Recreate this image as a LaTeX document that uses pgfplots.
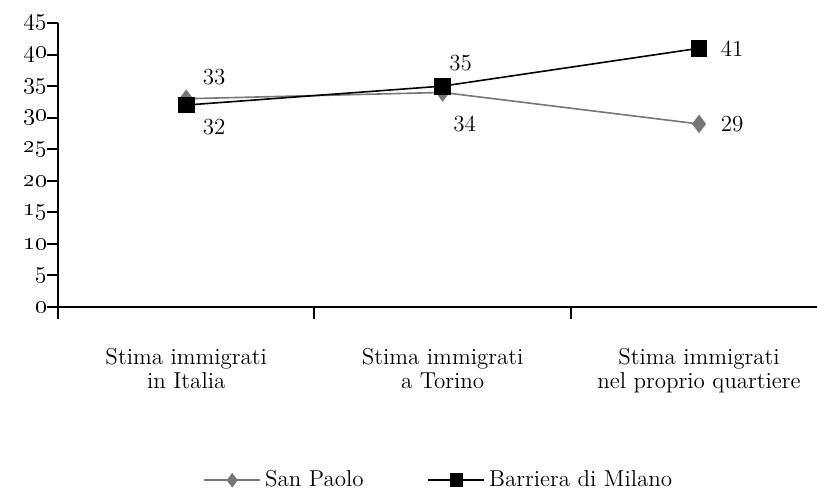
\documentclass[border=0pt]{standalone}
\usepackage{pgfplots}
\pgfplotsset{compat=1.18}
\definecolor{spgray}{RGB}{118,118,118}
\begin{document}
\fontsize{11.5}{12}\selectfont
\begin{tikzpicture}
\useasboundingbox (-29pt,-93.5pt) rectangle (379.5pt,153.5pt);
\begin{axis}[
  at={(0,0)}, anchor=south west,
  scale only axis, width=379.5pt, height=142pt,
  xmin=-0.5, xmax=2.46, ymin=0, ymax=45,
  axis x line*=bottom, axis y line*=left,
  axis line style={line width=1pt},
  tick align=outside,
  major tick length=5.5pt,
  ytick={0,5,...,45},
  yticklabels={\oldstylenums{0},\oldstylenums{5},\oldstylenums{10},\oldstylenums{15},\oldstylenums{20},\oldstylenums{25},\oldstylenums{30},\oldstylenums{35},\oldstylenums{40},\oldstylenums{45}},
  yticklabel style={font=\fontsize{12.5}{13}\selectfont, xshift=4pt},
  ytick style={draw=black, line width=1pt},
  xtick={0,1,2},
  xticklabels={{Stima immigrati\\in Italia},{Stima immigrati\\a Torino},{Stima immigrati\\nel proprio quartiere}},
  xticklabel style={align=center, yshift=-11pt},
  xtick style={draw=none},
  extra x ticks={-0.5,0.5,1.5},
  extra x tick labels={},
  extra x tick style={xtick style={draw=black, line width=1pt}, major tick length=6pt},
  clip=false,
  legend columns=2,
  legend style={draw=none, at={(0.503,-0.61)}, anchor=center, font=\fontsize{11.5}{12}\selectfont,
    /tikz/every even column/.append style={column sep=30pt}},
  legend cell align=left,
  legend image code/.code={\draw[mark repeat=2,mark phase=2,#1] plot coordinates {(0pt,0pt) (14pt,0pt) (28pt,0pt)};},
  legend image post style={mark size=3pt},
]
\addplot[color=spgray, line width=0.8pt, mark=diamond*, mark size=4pt, mark options={fill=spgray}]
  coordinates {(0,33) (1,34) (2,29)};
\addlegendentry{San Paolo}
\addplot[color=black, line width=0.8pt, mark=square*, mark size=3.8pt, mark options={fill=black}]
  coordinates {(0,32) (1,35) (2,41)};
\addlegendentry{Barriera di Milano}
% data labels
\addplot[forget plot, draw=none, mark=none, nodes near coords, point meta=explicit symbolic,
  every node near coord/.style={anchor=center, xshift=14pt, yshift=11pt}] coordinates {(0,33) [33]};
\addplot[forget plot, draw=none, mark=none, nodes near coords, point meta=explicit symbolic,
  every node near coord/.style={anchor=center, xshift=14pt, yshift=-11pt}] coordinates {(0,32) [32]};
\addplot[forget plot, draw=none, mark=none, nodes near coords, point meta=explicit symbolic,
  every node near coord/.style={anchor=center, xshift=9pt, yshift=11.5pt}] coordinates {(1,35) [35]};
\addplot[forget plot, draw=none, mark=none, nodes near coords, point meta=explicit symbolic,
  every node near coord/.style={anchor=center, xshift=11pt, yshift=-16pt}] coordinates {(1,34) [34]};
\addplot[forget plot, draw=none, mark=none, nodes near coords, point meta=explicit symbolic,
  every node near coord/.style={anchor=center, xshift=16.5pt, yshift=0pt}] coordinates {(2,41) [41]};
\addplot[forget plot, draw=none, mark=none, nodes near coords, point meta=explicit symbolic,
  every node near coord/.style={anchor=center, xshift=16.5pt, yshift=0pt}] coordinates {(2,29) [29]};
\end{axis}
\end{tikzpicture}
\end{document}
